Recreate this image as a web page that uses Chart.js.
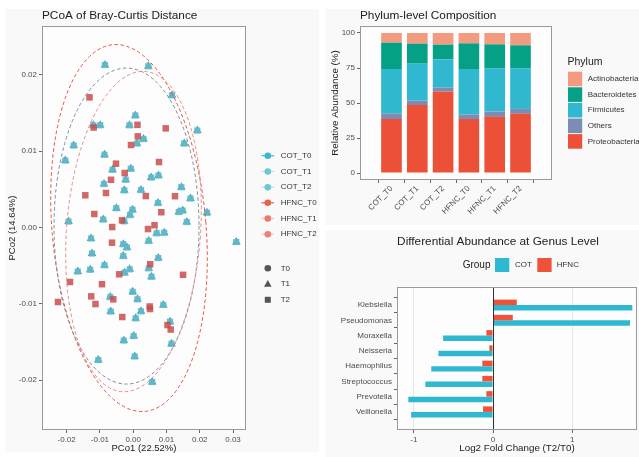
<!DOCTYPE html>
<html><head><meta charset="utf-8">
<script src="https://cdn.jsdelivr.net/npm/chart.js@4.4.1/dist/chart.umd.min.js"></script>
<style>
html,body{margin:0;padding:0;background:#fff;width:639px;height:457px;overflow:hidden;position:relative}
canvas{position:absolute;display:block}
</style></head><body>
<canvas id="cA" width="320" height="457" style="left:0;top:0"></canvas>
<canvas id="cB" width="319" height="230" style="left:320px;top:0"></canvas>
<canvas id="cC" width="319" height="227" style="left:320px;top:230px"></canvas>
<script>
// ---------- PCoA data ----------
const cotX=[-0.00848,0.00454,0.01166,0.00063,-0.01199,-0.00992,-0.00111,0.01927,0.00310,0.00114,-0.01788,0.01533,-0.02041,-0.00863,-0.00622,-0.00072,-0.00225,0.00541,0.00760,-0.00878,-0.00268,0.00234,0.01446,0.01722,-0.00508,-0.00021,0.00745,-0.00096,0.01371,0.01488,0.02218,-0.00902,-0.00271,-0.01945,0.01611,0.00706,0.00932,0.03099,-0.01268,-0.00298,-0.00186,0.00466,-0.01238,-0.00298,0.00754,-0.01665,-0.01292,-0.00863,-0.00261,-0.00105,0.00469,0.00550,-0.00015,-0.00688,0.00129,0.00905,-0.00676,0.00234,0.00075,0.01106,0.00015,-0.00283,0.01151,0.00045,-0.01049,0.00571];
const cotY=[0.02128,0.02111,0.01731,0.01466,0.01339,0.01339,0.01338,0.01269,0.01158,0.01099,0.01073,0.01099,0.00876,0.00952,0.00755,0.00769,0.00625,0.00654,0.00680,0.00569,0.00486,0.00490,0.00527,0.00379,0.00252,0.00232,0.00320,0.00162,0.00202,0.00221,0.00193,0.00103,0.00080,0.00077,0.00071,-0.00077,-0.00069,-0.00191,-0.00145,-0.00220,-0.00263,-0.00178,-0.00342,-0.00375,-0.00401,-0.00578,-0.00554,-0.00495,-0.00593,-0.00549,-0.00536,-0.00646,-0.00844,-0.00912,-0.00942,-0.01016,-0.01102,-0.01099,-0.01191,-0.01235,-0.01423,-0.01482,-0.01525,-0.01691,-0.01737,-0.02025];
const hfncX=[-0.01313,-0.01187,0.00129,0.00977,0.00138,-0.00066,-0.00517,0.00775,-0.00255,-0.00667,-0.00818,-0.01440,0.00379,0.01256,-0.01169,0.00845,-0.00337,-0.00631,0.00445,0.00640,-0.00637,0.00511,-0.00421,0.01497,-0.01900,-0.00938,-0.01262,-0.00598,-0.02260,-0.01133,0.00496,0.00505,-0.00328,0.01031,0.01127];
const hfncY=[0.01704,0.01309,0.01344,0.01298,0.01193,0.01080,0.00835,0.00857,0.00713,0.00624,0.00451,0.00421,0.00411,0.00409,0.00176,0.00199,0.00093,0.00005,-0.00021,0.00029,-0.00200,-0.00482,-0.00614,-0.00621,-0.00715,-0.00744,-0.00903,-0.00942,-0.00977,-0.01004,-0.01036,-0.01069,-0.01174,-0.01279,-0.01338];
const pcoaXTicks=[-0.02,-0.01,0.00,0.01,0.02,0.03];
const pcoaYTicks=[-0.02,-0.01,0.00,0.01,0.02];
// confidence ellipses (centre, semi-axes in data units, tilt in degrees)
const ellCX=[-0.00126,-0.00201,0.00009];
const ellCY=[-0.00008,0.00018,-0.00054];
const ellRX=[0.02314,0.02179,0.02014];
const ellRY=[0.02411,0.02070,0.02103];
const ellRot=[-4.9,0,4.1];
const groupLabels=['COT_T0','COT_T1','COT_T2','HFNC_T0','HFNC_T1','HFNC_T2'];
const timeLabels=['T0','T1','T2'];

// ---------- Phylum composition ----------
const samples=['COT_T0','COT_T1','COT_T2','HFNC_T0','HFNC_T1','HFNC_T2'];
const phyla=['Proteobacteria','Others','Firmicutes','Bacteroidetes','Actinobacteria'];
const proteobacteria=[38.5,48.5,58.2,38.5,40.1,42.3];
const others=[4.0,3.3,2.8,3.3,3.8,3.5];
const firmicutes=[31.8,26.3,20.2,32.5,30.9,28.8];
const bacteroidetes=[18.8,14.3,10.5,18.3,17.1,16.6];
const actinobacteria=[6.9,7.6,8.3,7.4,8.1,8.8];
const abundTicks=[0,25,50,75,100];

// ---------- Differential abundance ----------
const genera=['Klebsiella','Pseudomonas','Moraxella','Neisseria','Haemophilus','Streptococcus','Prevotella','Veillonella'];
const lfcCOT=[1.76,1.73,-0.63,-0.69,-0.78,-0.855,-1.07,-1.035];
const lfcHFNC=[0.30,0.25,-0.084,-0.046,-0.135,-0.135,-0.084,-0.126];
const lfcTicks=[-1,0,1];

// ---------- styles ----------
const FONT='"Liberation Sans", Arial, Helvetica, sans-serif';
Chart.defaults.font.family=FONT;
Chart.defaults.color='#4D4D4D';
Chart.defaults.animation=false;
const PANEL_BG='#F9F9F9', PLOT_BG='#FDFDFD', FRAME='#9A9A9A', TXT='#222';
const TICK_FS=8, LEG_FS=8;
const ELL_COLORS=['#E8533F','#7F8E9C','#E58E86'];
const GROUP_COLORS=['#3DB5CA','#6BC7D6','#6BC7D6','#E8604E','#EC7A6C','#EE8074'];
const PHY_COLORS={Proteobacteria:'#EC5138',Others:'#7B8DB2',Firmicutes:'#30B8D0',Bacteroidetes:'#05A085',Actinobacteria:'#F39B7F'};
const COT_C='#2FB9D1', HFNC_C='#EE5239';

function panelPlugin(panel){
  return {id:'panel',
    beforeDraw(chart){const {ctx,chartArea:a}=chart;ctx.save();ctx.fillStyle=PANEL_BG;ctx.fillRect(panel[0],panel[1],panel[2],panel[3]);
      ctx.fillStyle=PLOT_BG;ctx.fillRect(a.left,a.top,a.right-a.left,a.bottom-a.top);ctx.restore();},
    afterDraw(chart){const {ctx,chartArea:a}=chart;ctx.save();ctx.strokeStyle=FRAME;ctx.lineWidth=1;
      ctx.strokeRect(Math.round(a.left)+0.5,Math.round(a.top)+0.5,Math.round(a.right-a.left)-1,Math.round(a.bottom-a.top)-1);ctx.restore();}
  };
}
function text(ctx,s,x,y,size,color,align){ctx.font=size+'px '+FONT;ctx.fillStyle=color;ctx.textAlign=align||'left';ctx.textBaseline='middle';ctx.fillText(s,x,y);}
const tickSet=arr=>s=>{s.ticks=arr.map(v=>({value:v}));};

// ================= Chart A: PCoA =================
const ellipsePlugin={id:'ell',afterDatasetsDraw(chart){
  const {ctx,scales:{x,y},chartArea:a}=chart;ctx.save();ctx.beginPath();ctx.rect(a.left,a.top,a.right-a.left,a.bottom-a.top);ctx.clip();
  ellCX.forEach((cx,i)=>{const px=x.getPixelForValue(cx),py=y.getPixelForValue(ellCY[i]);
    const rx=Math.abs(x.getPixelForValue(cx+ellRX[i])-px),ry=Math.abs(y.getPixelForValue(ellCY[i]+ellRY[i])-py);
    ctx.beginPath();ctx.ellipse(px,py,rx,ry,ellRot[i]*Math.PI/180,0,2*Math.PI);
    ctx.setLineDash([3.5,2.5]);ctx.lineWidth=1;ctx.strokeStyle=ELL_COLORS[i];ctx.stroke();});
  ctx.restore();}};
const legendA={id:'legA',afterDraw(chart){
  const ctx=chart.ctx;ctx.save();
  text(ctx,'PCoA of Bray-Curtis Distance',42,15.5,11.8,TXT);
  const ys=[155.7,171.5,187.2,202.8,218.5,234.2];
  groupLabels.forEach((g,i)=>{const y=ys[i];
    ctx.globalAlpha=(i%3===0)?1:0.45;ctx.strokeStyle=GROUP_COLORS[i];ctx.lineWidth=1.2;ctx.setLineDash([]);
    ctx.beginPath();ctx.moveTo(261.5,y);ctx.lineTo(274,y);ctx.stroke();ctx.globalAlpha=1;
    ctx.fillStyle=GROUP_COLORS[i];ctx.beginPath();ctx.arc(267.8,y,3.3,0,2*Math.PI);ctx.fill();
    text(ctx,g,280.7,y,LEG_FS,'#333');});
  const ts=[268.3,284,299.8];ctx.fillStyle='#555';
  ctx.beginPath();ctx.arc(267.8,ts[0],3.3,0,2*Math.PI);ctx.fill();
  ctx.beginPath();ctx.moveTo(267.8,ts[1]-4);ctx.lineTo(271.6,ts[1]+2.8);ctx.lineTo(264,ts[1]+2.8);ctx.closePath();ctx.fill();
  ctx.fillRect(264.8,ts[2]-3,6,6);
  timeLabels.forEach((t,i)=>text(ctx,t,280.7,ts[i],LEG_FS,'#333'));
  ctx.restore();}};
new Chart(document.getElementById('cA'),{
  type:'scatter',
  data:{datasets:[
    {label:'HFNC',data:hfncX.map((x,i)=>({x,y:hfncY[i]})),pointStyle:'rect',pointRadius:4.6,backgroundColor:'rgba(200,78,76,0.85)',borderWidth:0},
    {label:'COT (square)',data:cotX.map((x,i)=>({x,y:cotY[i]})),pointStyle:'rect',pointRadius:4.4,backgroundColor:'rgba(98,186,202,0.9)',borderWidth:0},
    {label:'COT (triangle)',data:cotX.map((x,i)=>({x,y:cotY[i]})),pointStyle:'triangle',pointRadius:5,backgroundColor:'#4AA2B3',borderWidth:0}
  ]},
  options:{responsive:false,events:[],animation:false,
    layout:{padding:{top:26,right:74,left:0,bottom:0}},
    plugins:{legend:{display:false},tooltip:{enabled:false}},
    scales:{
      x:{type:'linear',min:-0.02741,max:0.0339,afterFit:s=>{s.height=27;},afterBuildTicks:tickSet(pcoaXTicks),
        ticks:{callback:v=>v.toFixed(2),font:{size:TICK_FS},color:'#4D4D4D',padding:2,maxRotation:0},
        grid:{drawOnChartArea:false,tickLength:3,tickColor:'#666'},border:{display:false},
        title:{display:true,text:'PCo1 (22.52%)',font:{size:9.5},color:TXT,padding:{top:0,bottom:2.5}}},
      y:{type:'linear',min:-0.02654,max:0.02639,afterFit:s=>{s.width=42;},afterBuildTicks:tickSet(pcoaYTicks),
        ticks:{callback:v=>v.toFixed(2),font:{size:TICK_FS},color:'#4D4D4D',padding:2},
        grid:{drawOnChartArea:false,tickLength:3,tickColor:'#666'},border:{display:false},
        title:{display:true,text:'PCo2 (14.64%)',font:{size:9.5},color:TXT,padding:{top:7,bottom:0}}}
    }},
  plugins:[panelPlugin([5,9,314,443]),ellipsePlugin,legendA]
});

// ================= Chart B: Phylum composition =================
const phyData={Proteobacteria:proteobacteria,Others:others,Firmicutes:firmicutes,Bacteroidetes:bacteroidetes,Actinobacteria:actinobacteria};
const legendB={id:'legB',afterDraw(chart){
  const ctx=chart.ctx;ctx.save();
  text(ctx,'Phylum-level Composition',40,15.5,11.8,TXT);
  text(ctx,'Phylum',247.5,62,10.5,TXT);
  const order=['Actinobacteria','Bacteroidetes','Firmicutes','Others','Proteobacteria'];
  order.forEach((p,i)=>{const yc=79+i*15.6;ctx.fillStyle=PHY_COLORS[p];ctx.fillRect(248,yc-7.3,14.2,14.6);
    text(ctx,p,267.7,yc,LEG_FS,'#333');});
  ctx.restore();}};
new Chart(document.getElementById('cB'),{
  type:'bar',
  data:{datasets:phyla.map(p=>({label:p,data:phyData[p].map((v,i)=>({x:i+1,y:v})),backgroundColor:PHY_COLORS[p],borderWidth:0,barPercentage:0.8,categoryPercentage:1}))},
  options:{responsive:false,events:[],animation:false,
    layout:{padding:{top:26,right:87,left:0,bottom:0}},
    plugins:{legend:{display:false},tooltip:{enabled:false}},
    scales:{
      x:{type:'linear',stacked:true,min:0.4,max:6.6,afterFit:s=>{s.height=50;},afterBuildTicks:tickSet(samples.map((s,i)=>i+1)),
        ticks:{callback:v=>samples[v-1],font:{size:TICK_FS},color:'#4D4D4D',padding:1,autoSkip:false,minRotation:45,maxRotation:45},
        grid:{drawOnChartArea:false,tickLength:3,tickColor:'#666'},border:{display:false}},
      y:{type:'linear',stacked:true,min:-5,max:105,afterFit:s=>{s.width=40;},afterBuildTicks:tickSet(abundTicks),
        ticks:{font:{size:TICK_FS},color:'#4D4D4D',padding:2},
        grid:{drawOnChartArea:false,tickLength:3,tickColor:'#666'},border:{display:false},
        title:{display:true,text:'Relative Abundance (%)',font:{size:9.8},color:TXT,padding:{top:9,bottom:0}}}
    }},
  plugins:[panelPlugin([5,9,314,216]),legendB]
});

// ================= Chart C: Differential abundance =================
const legendC={id:'legC',
  afterDatasetsDraw(chart){const {ctx,scales:{x},chartArea:a}=chart;const px=Math.round(x.getPixelForValue(0))+0.5;
    ctx.save();ctx.strokeStyle='#333';ctx.lineWidth=1;ctx.beginPath();ctx.moveTo(px,a.top);ctx.lineTo(px,a.bottom);ctx.stroke();ctx.restore();},
  afterDraw(chart){const ctx=chart.ctx;ctx.save();
    text(ctx,'Differential Abundance at Genus Level',178,12,11.8,TXT,'center');
    text(ctx,'Group',142.7,35,10,TXT);
    ctx.fillStyle=COT_C;ctx.fillRect(175,28,14.3,14);text(ctx,'COT',195,35,LEG_FS,'#333');
    ctx.fillStyle=HFNC_C;ctx.fillRect(217.3,28,14.3,14);text(ctx,'HFNC',236.7,35,LEG_FS,'#333');
    ctx.restore();}};
new Chart(document.getElementById('cC'),{
  type:'bar',
  data:{datasets:[
    {label:'HFNC',data:lfcHFNC.map((v,i)=>({x:v,y:i+1})),backgroundColor:HFNC_C,borderWidth:0,categoryPercentage:0.72,barPercentage:1},
    {label:'COT',data:lfcCOT.map((v,i)=>({x:v,y:i+1})),backgroundColor:COT_C,borderWidth:0,categoryPercentage:0.72,barPercentage:1}
  ]},
  options:{indexAxis:'y',responsive:false,events:[],animation:false,
    layout:{padding:{top:57,right:2,left:0,bottom:0}},
    plugins:{legend:{display:false},tooltip:{enabled:false}},
    scales:{
      x:{type:'linear',min:-1.213,max:1.819,afterFit:s=>{s.height=27;},afterBuildTicks:tickSet(lfcTicks),
        ticks:{font:{size:TICK_FS},color:'#4D4D4D',padding:2},
        grid:{drawOnChartArea:true,color:'#E6E6E6',tickLength:3,tickColor:'#666'},border:{display:false},
        title:{display:true,text:'Log2 Fold Change (T2/T0)',font:{size:9.8},color:TXT,padding:{top:0,bottom:2.5}}},
      y:{type:'linear',reverse:true,min:0.4,max:8.6,afterFit:s=>{s.width=77;},afterBuildTicks:tickSet(genera.map((g,i)=>i+1)),
        ticks:{callback:v=>genera[v-1],font:{size:TICK_FS},color:'#4D4D4D',padding:2},
        grid:{drawOnChartArea:false,tickLength:3,tickColor:'#666'},border:{display:false}}
    }},
  plugins:[panelPlugin([5,0,314,227]),legendC]
});
</script>
</body></html>
